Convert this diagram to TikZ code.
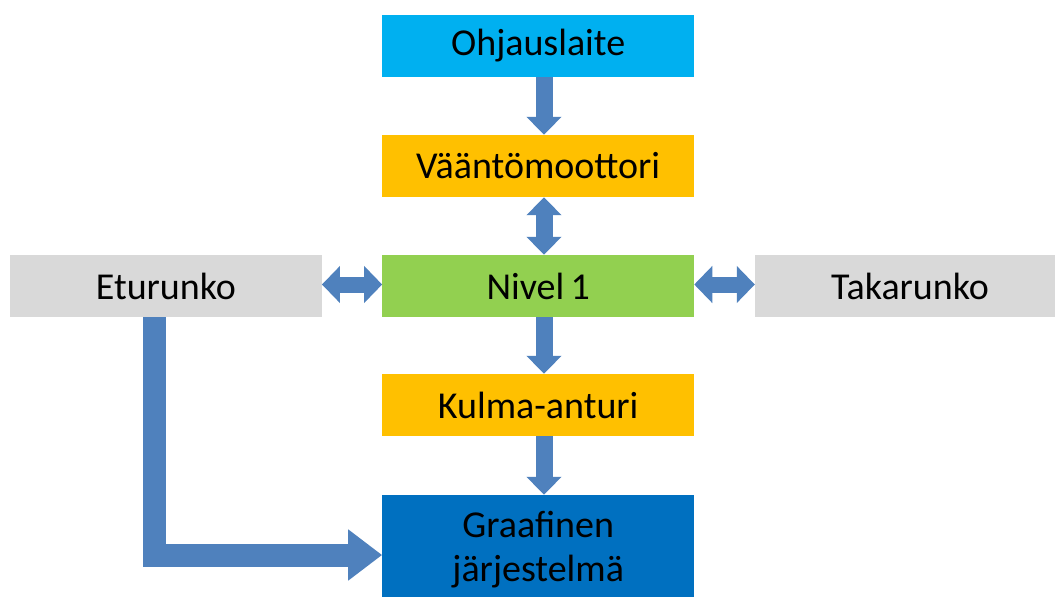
\documentclass[tikz,border=0pt]{standalone}
\usepackage{fontspec}
\setmainfont{Carlito}
\usetikzlibrary{arrows.meta,calc}
\definecolor{boxcyan}{HTML}{00B0F0}
\definecolor{boxorange}{HTML}{FFC000}
\definecolor{boxgreen}{HTML}{92D050}
\definecolor{boxblue}{HTML}{0070C0}
\definecolor{boxgray}{HTML}{D9D9D9}
\definecolor{arrowblue}{HTML}{4F81BD}
\tikzset{
  block/.style={rectangle, inner sep=0pt, minimum width=311.7pt, minimum height=62pt,
    font=\fontsize{38}{44}\selectfont, text=black, align=center},
  flow/.style={draw=arrowblue, line width=17pt, line cap=butt,
    -{Triangle[width=34pt,length=18pt]}},
  flowboth/.style={draw=arrowblue, line width=17pt, line cap=butt,
    {Triangle[width=34pt,length=18pt]}-{Triangle[width=34pt,length=18pt]}},
  sideboth/.style={draw=arrowblue, line width=16pt, line cap=butt,
    {Triangle[width=36pt,length=18pt]}-{Triangle[width=36pt,length=18pt]}},
  bigflow/.style={draw=arrowblue, line width=23pt, line cap=butt, line join=miter,
    -{Triangle[width=49pt,length=34pt]}}
}
\begin{document}
\begin{tikzpicture}[x=1pt,y=-1pt]
  \clip (0,0) rectangle (1055,597);
  \fill[white] (0,0) rectangle (1055,597);

  % stacked boxes of the central column
  \node[block, fill=boxcyan]   (ohj)  at (538.2,46)  {Ohjauslaite};
  \node[block, fill=boxorange] (vaan) at (538.2,166) {Vääntömoottori};
  \node[block, fill=boxgreen]  (niv)  at (538.2,286) {Nivel\,1};
  \node[block, fill=boxorange] (kul)  at (538.2,405) {Kulma-anturi};
  \node[block, fill=boxblue, minimum height=110pt] (gra) at (538.2,550)
        {Graafinen\\järjestelmä};

  % frame parts on both sides of the joint
  \node[block, fill=boxgray] (etu) at (165.9,286) {Eturunko};
  \node[block, fill=boxgray, minimum width=310pt] (tak) at (910,286) {Takarunko};

  % guide positions for the connectors
  \coordinate (ax) at (544,0);
  \coordinate (hy) at (0,284.5);
  \coordinate (lx) at (154.2,0);
  \coordinate (ly) at (0,555);

  % connectors
  \draw[flow]     (ohj.south -| ax) -- (vaan.north -| ax);
  \draw[flowboth] (vaan.south -| ax) -- (niv.north -| ax);
  \draw[flow]     (niv.south -| ax) -- (kul.north -| ax);
  \draw[flow]     (kul.south -| ax) -- (gra.north -| ax);
  \draw[sideboth] (etu.east |- hy) -- (niv.west |- hy);
  \draw[sideboth] (niv.east |- hy) -- (tak.west |- hy);
  \draw[bigflow]  (etu.south -| lx) -- (lx |- ly) -- (gra.west |- ly);
\end{tikzpicture}
\end{document}
